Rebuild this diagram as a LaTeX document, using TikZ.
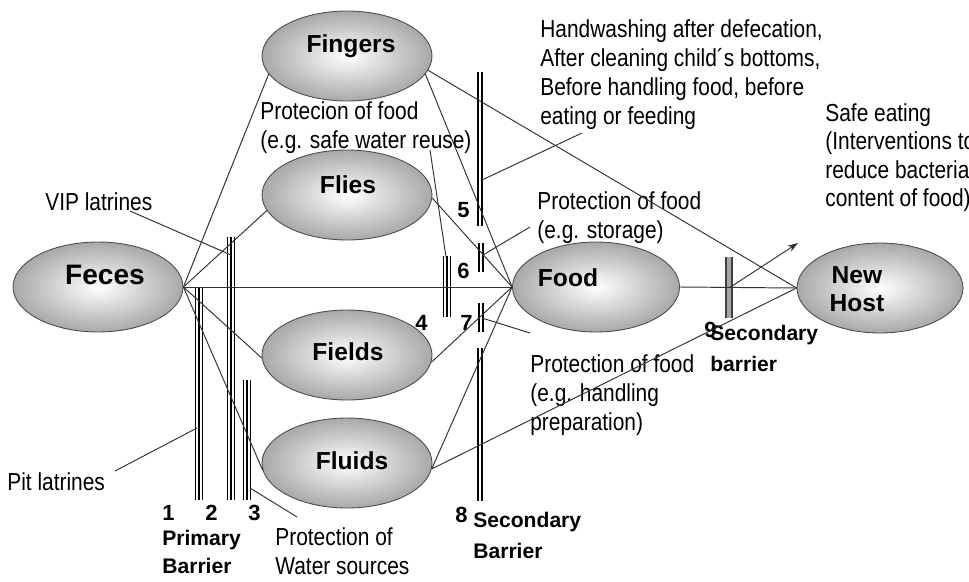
\documentclass[tikz,border=0pt]{standalone}
\usepackage{fontspec}
\setmainfont{Liberation Sans}
\newfontfamily\narrowfont[FakeStretch=0.85]{Liberation Sans}
\usetikzlibrary{shapes.geometric,arrows.meta}
\begin{document}
\begin{tikzpicture}[x=0.02cm,y=-0.02cm,
  blob/.style={ellipse, draw=black!70, line width=0.5pt, minimum width=3.4cm, minimum height=1.8cm, inner sep=0pt, inner color=white, outer color=gray!68},
  blobtext/.style={font=\fontsize{14pt}{16pt}\selectfont\bfseries, inner sep=0pt, align=center},
  txt/.style={font=\narrowfont\fontsize{14pt}{16.6pt}\selectfont, align=left, anchor=north west, inner sep=0pt},
  btxt/.style={font=\fontsize{12pt}{15.9pt}\selectfont\bfseries, align=left, anchor=north west, inner sep=0pt},
  num/.style={font=\fontsize{12.5pt}{15pt}\selectfont\bfseries, inner sep=0pt, anchor=base west},
  conn/.style={draw=black!80, line width=0.55pt},
  barA/.style={draw=black, line width=4.4pt, postaction={draw=white, line width=2.9pt}, postaction={draw=black, line width=1.1pt}},
  barB/.style={draw=black, line width=3.8pt, postaction={draw=white, line width=1.1pt}},
  barC/.style={draw=black!75, line width=4pt, postaction={draw=gray!70, line width=2pt}}
]
\clip (0,0) rectangle (969,581);
\fill[white] (0,0) rectangle (969,581);

% ellipses
\node[blob] (feces)   at (98,287) {};
\node[blob] (fingers) at (347,56) {};
\node[blob] (flies)   at (347,195) {};
\node[blob] (fields)  at (347,355) {};
\node[blob] (fluids)  at (347,463) {};
\node[blob, minimum width=3.34cm] (food) at (596,287) {};
\node[blob, minimum width=3.32cm] (host) at (880,288) {};

\node[blobtext, font=\fontsize{16pt}{18pt}\selectfont\bfseries] (fecesT) at (105,275) {Feces};
\node[blobtext, anchor=base] (fingersT) at (351,52) {Fingers};
\node[blobtext, anchor=base] (fliesT) at (348,193) {Flies};
\node[blobtext, anchor=base] (fieldsT) at (348,360) {Fields};
\node[blobtext, anchor=base] (fluidsT) at (352,469) {Fluids};
\node[blobtext, anchor=base] (foodT) at (568,286) {Food};
\node[blobtext, anchor=north, font=\fontsize{14pt}{16.2pt}\selectfont\bfseries] (hostT) at (857,266) {New\\Host};

% texts
\node[txt] (hand) at (540,19) {Handwashing after defecation,\\After cleaning child´s bottoms,\\Before handling food, before\\eating or feeding};
\node[txt, font=\narrowfont\fontsize{14pt}{16.2pt}\selectfont] (safe) at (825,103) {Safe eating\\(Interventions to\\reduce bacterial\\content of food)};
\node[txt] (reuse) at (260,101) {Protecion of food\\(e.g. safe water reuse)};
\node[txt] (storage) at (537,191) {Protection of food\\(e.g. storage)};
\node[txt] (handling) at (530,354) {Protection of food\\(e.g. handling\\preparation)};
\node[txt] (vip) at (45,192) {VIP latrines};
\node[txt] (pit) at (7,472) {Pit latrines};
\node[txt] (water) at (275,527) {Protection of\\Water sources};
\node[btxt] (primary) at (162,530) {Primary\\Barrier};
\node[btxt, font=\fontsize{12pt}{17.5pt}\selectfont\bfseries] (second) at (473,512) {Secondary\\Barrier};
\node[btxt, font=\fontsize{12pt}{17.5pt}\selectfont\bfseries] (secondb) at (710,325) {Secondary\\barrier};

\node[num] (n1) at (162,520) {1};
\node[num] (n2) at (205,520) {2};
\node[num] (n3) at (248,520) {3};
\node[num] (n4) at (415,330) {4};
\node[num] (n5) at (457,217) {5};
\node[num] (n6) at (457,278) {6};
\node[num] (n7) at (460,330) {7};
\node[num] (n8) at (455,522) {8};
\node[num] (n9) at (704,337) {9};

% barriers
\draw[barA] (199,288) -- (199,500);
\draw[barA] (231,237) -- (231,500);
\draw[barA] (247,380) -- (247,500);
\draw[barA] (447,256) -- (447,317);
\draw[barB] (480,72) -- (480,226);
\draw[barB] (481,243) -- (481,272);
\draw[barB] (481,303) -- (481,332);
\draw[barB] (480,348) -- (480,501);
\draw[barC] (729,257) -- (729,318);

% coordinates for pointers
\coordinate (vipA) at (130,211);
\coordinate (vipB) at (231,255);
\coordinate (pitA) at (115,471);
\coordinate (pitB) at (197,428);
\coordinate (watA) at (297,517);
\coordinate (watB) at (250,488);
\coordinate (reuseA) at (430,150);
\coordinate (reuseB) at (446,257);
\coordinate (handA) at (582,133);
\coordinate (handB) at (482,180);
\coordinate (storA) at (530,227);
\coordinate (storB) at (483,255);
\coordinate (handlA) at (530,333);
\coordinate (handlB) at (482,318);
\coordinate (b9) at (729,288);
\coordinate (safeA) at (798,243);

% connectors
\draw[conn] (feces.east) -- (fingers.193);
\draw[conn] (feces.east) -- (flies.191);
\draw[conn] (feces.east) -- (food.west);
\draw[conn] (feces.east) -- (fields.182);
\draw[conn] (feces.east) -- (fluids.185);
\draw[conn] (fingers.-13) -- (food.west);
\draw[conn] (flies.-2) -- (food.west);
\draw[conn] (fields.-5) -- (food.west);
\draw[conn] (fluids.-4) -- (food.west);
\draw[conn] (fingers.-10) -- (host.west);
\draw[conn] (fluids.-4) -- (host.west);
\draw[conn] (food.east) -- (host.west);
\draw[conn, -{Stealth[length=6pt,width=4pt]}] (b9) -- (safeA);

\draw[conn] (vipA) -- (vipB);
\draw[conn] (pitA) -- (pitB);
\draw[conn] (watA) -- (watB);
\draw[conn] (reuseA) -- (reuseB);
\draw[conn] (handA) -- (handB);
\draw[conn] (storA) -- (storB);
\draw[conn] (handlA) -- (handlB);
\end{tikzpicture}
\end{document}
